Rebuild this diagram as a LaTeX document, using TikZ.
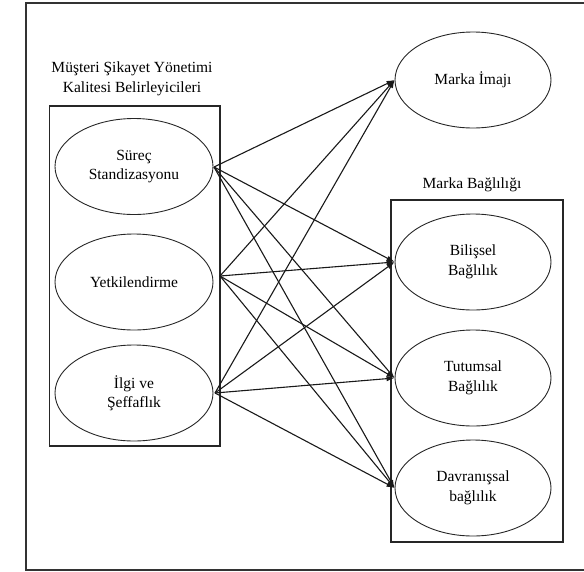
\documentclass[tikz,border=0pt]{standalone}
\usepackage{fontspec}
\setmainfont{Liberation Serif}
\usetikzlibrary{arrows.meta,shapes.geometric}
\begin{document}
\begin{tikzpicture}[x=1pt,y=-1pt,
  every node/.style={font=\fontsize{15.5}{19.5}\selectfont, align=center},
  construct/.style={ellipse, draw=black!85, line width=0.9pt, minimum width=158pt, minimum height=96pt, inner sep=0pt},
  groupbox/.style={draw=black!85, line width=1.3pt},
  link/.style={draw=black!90, line width=1.1pt, -{Latex[length=8pt,width=5.5pt]}},
  caption/.style={inner sep=0pt}]
  \useasboundingbox (0,0) rectangle (584,571);
  \clip (0,0) rectangle (584,571);

  % outer frame (runs off the right edge)
  \draw[black!80, line width=1.6pt] (600,3) -- (26,3) -- (26,570) -- (600,570);

  % group frames
  \draw[groupbox] (49.5,106) rectangle (220,446);
  \draw[groupbox] (391,200) rectangle (563,542);

  % group captions
  \node[caption] (capL) at (132,79) {Müşteri Şikayet Yönetimi\\Kalitesi Belirleyicileri};
  \node[caption] (capR) at (472,185) {Marka Bağlılığı};

  % determinants
  \node[construct] (surec) at (134,166.5) {Süreç\\Standizasyonu};
  \node[construct] (yetki) at (134,282) {Yetkilendirme};
  \node[construct] (ilgi)  at (134,393) {İlgi ve\\Şeffaflık};

  % outcomes
  \node[construct, minimum width=156pt] (imaj) at (473,80)  {Marka İmajı};
  \node[construct, minimum width=156pt] (bil)  at (473,262) {Bilişsel\\Bağlılık};
  \node[construct, minimum width=156pt] (tut)  at (473,378) {Tutumsal\\Bağlılık};
  \node[construct, minimum width=156pt] (dav)  at (473,488) {Davranışsal\\bağlılık};

  % start points of the paths
  \coordinate (sS) at (214,167);
  \coordinate (sY) at (220,276);
  \coordinate (sI) at (215,393);

  \foreach \s in {sS,sY,sI}{
    \foreach \t in {imaj,bil,tut,dav}{
      \draw[link] (\s) -- (\t.west);
    }
  }
\end{tikzpicture}
\end{document}
